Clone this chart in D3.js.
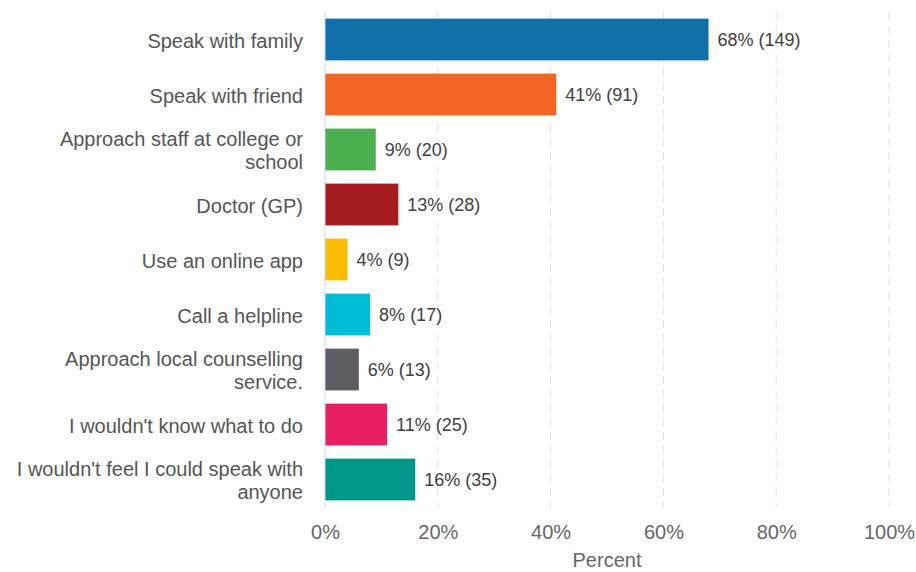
<!DOCTYPE html>
<html>
<head>
<meta charset="utf-8">
<script src="https://cdn.jsdelivr.net/npm/d3@7"></script>
<style>
  html, body { margin: 0; padding: 0; background: #fff; }
  svg { display: block; font-family: "Liberation Sans", Arial, sans-serif; }
</style>
</head>
<body>
<svg id="chart" width="916" height="572"></svg>
<script>
// Responses: what would you do if you needed support?
const categories = [
  ["Speak with family"],
  ["Speak with friend"],
  ["Approach staff at college or", "school"],
  ["Doctor (GP)"],
  ["Use an online app"],
  ["Call a helpline"],
  ["Approach local counselling", "service."],
  ["I wouldn't know what to do"],
  ["I wouldn't feel I could speak with", "anyone"]
];
const percents = [68, 41, 9, 13, 4, 8, 6, 11, 16];
const counts = [149, 91, 20, 28, 9, 17, 13, 25, 35];
const colors = ["#1170aa", "#f26522", "#4caf50", "#a51c20", "#fbbc05", "#00bcd4", "#605c64", "#e91e63", "#009688"];
const tickValues = [0, 20, 40, 60, 80, 100];
const axisTitle = "Percent";

const svg = d3.select("#chart");
const margin = { left: 325, top: 12 };

const x = d3.scaleLinear().domain([0, 100]).range([margin.left, 889]);
const y = d3.scaleBand()
  .domain(d3.range(categories.length))
  .range([margin.top, margin.top + 55 * categories.length])
  .paddingInner(0.24)
  .paddingOuter(0.12);

// dashed vertical gridlines
svg.append("g")
  .selectAll("line")
  .data(tickValues.slice(1))
  .join("line")
  .attr("x1", d => x(d)).attr("x2", d => x(d))
  .attr("y1", margin.top).attr("y2", y.range()[1])
  .attr("stroke", "#e0e0e0")
  .attr("stroke-width", 1)
  .attr("stroke-dasharray", "8,6");

// bars
svg.append("g")
  .selectAll("rect")
  .data(percents)
  .join("rect")
  .attr("x", x(0))
  .attr("y", (d, i) => y(i))
  .attr("width", d => x(d) - x(0))
  .attr("height", y.bandwidth())
  .attr("fill", (d, i) => colors[i]);

// baseline
svg.append("line")
  .attr("x1", x(0)).attr("x2", x(0))
  .attr("y1", margin.top).attr("y2", y.range()[1])
  .attr("stroke", "#ccd6eb")
  .attr("stroke-width", 1);

// value labels
svg.append("g")
  .selectAll("text")
  .data(percents)
  .join("text")
  .attr("x", d => x(d) + 9)
  .attr("y", (d, i) => y(i) + y.bandwidth() / 2)
  .attr("dy", "0.35em")
  .attr("font-size", 18)
  .attr("fill", "#404040")
  .text((d, i) => `${d}% (${counts[i]})`);

// category labels
const catG = svg.append("g");
categories.forEach((lines, i) => {
  const cy = y(i) + y.bandwidth() / 2;
  const lh = 23;
  const t = catG.append("text")
    .attr("text-anchor", "end")
    .attr("font-size", 20)
    .attr("fill", "#555");
  lines.forEach((ln, j) => {
    t.append("tspan")
      .attr("x", 303)
      .attr("y", cy + (j - (lines.length - 1) / 2) * lh + 1)
      .attr("dy", "0.35em")
      .text(ln);
  });
});

// x axis
const xAxis = d3.axisBottom(x)
  .tickValues(tickValues)
  .tickFormat(d => d + "%")
  .tickSize(0)
  .tickPadding(0);
const ax = svg.append("g")
  .attr("transform", `translate(0, 525)`)
  .call(xAxis);
ax.select(".domain").remove();
ax.selectAll("text")
  .attr("font-size", 20)
  .attr("fill", "#666")
  .attr("font-family", "'Liberation Sans', Arial, sans-serif");

svg.append("text")
  .attr("x", (x(0) + x(100)) / 2)
  .attr("y", 567)
  .attr("text-anchor", "middle")
  .attr("font-size", 20)
  .attr("fill", "#666")
  .text(axisTitle);
</script>
</body>
</html>
